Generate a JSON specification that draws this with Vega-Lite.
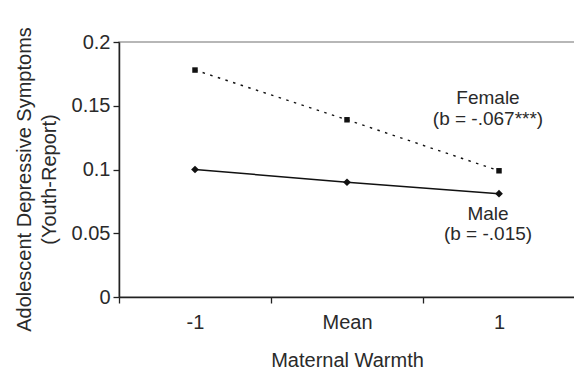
{
  "$schema": "https://vega.github.io/schema/vega-lite/v6.json",
  "width": 456,
  "height": 255,
  "autosize": "none",
  "padding": {"left": 119, "top": 42, "right": 0, "bottom": 73},
  "background": "white",
  "config": {
    "view": {"stroke": "#a0a0a0", "strokeWidth": 1.5},
    "font": "Liberation Sans",
    "text": {"font": "Liberation Sans"}
  },
  "datasets": {
    "points": [
      {"warmth": "-1", "gender": "Female", "symptoms": 0.178},
      {"warmth": "Mean", "gender": "Female", "symptoms": 0.139},
      {"warmth": "1", "gender": "Female", "symptoms": 0.099},
      {"warmth": "-1", "gender": "Male", "symptoms": 0.1},
      {"warmth": "Mean", "gender": "Male", "symptoms": 0.09},
      {"warmth": "1", "gender": "Male", "symptoms": 0.081}
    ],
    "labels": [
      {"warmth": "1", "symptoms": 0.1564, "label": "Female"},
      {"warmth": "1", "symptoms": 0.1399, "label": "(b = -.067***)"},
      {"warmth": "1", "symptoms": 0.0649, "label": "Male"},
      {"warmth": "1", "symptoms": 0.0495, "label": "(b = -.015)"}
    ]
  },
  "encoding": {
    "x": {
      "field": "warmth",
      "type": "nominal",
      "sort": ["-1", "Mean", "1"],
      "scale": {"type": "band", "domain": ["-1", "Mean", "1"], "paddingInner": 0, "paddingOuter": 0},
      "axis": {
        "title": "Maternal Warmth",
        "labelAngle": 0,
        "tickBand": "extent",
        "tickSize": 6,
        "tickColor": "#222",
        "tickWidth": 1.3,
        "domainColor": "#222",
        "domainWidth": 1.5,
        "labelFontSize": 20,
        "labelColor": "#2a2a2a",
        "labelPadding": 9,
        "titleFontSize": 20,
        "titleFontWeight": "normal",
        "titleColor": "#2a2a2a",
        "titlePadding": 18,
        "grid": false
      }
    },
    "y": {
      "field": "symptoms",
      "type": "quantitative",
      "scale": {"domain": [0, 0.2], "nice": false},
      "axis": {
        "values": [0, 0.05, 0.1, 0.15, 0.2],
        "format": "~g",
        "title": ["Adolescent Depressive Symptoms", "(Youth-Report)"],
        "grid": false,
        "tickSize": 6,
        "tickColor": "#222",
        "tickWidth": 1.3,
        "domainColor": "#222",
        "domainWidth": 1.5,
        "labelFontSize": 20,
        "labelColor": "#2a2a2a",
        "labelPadding": 3,
        "titleFontSize": 20,
        "titleFontWeight": "normal",
        "titleColor": "#2a2a2a",
        "titlePadding": 12,
        "titleLineHeight": 25,
        "titleY": 137
      }
    }
  },
  "layer": [
    {
      "data": {"name": "points"},
      "transform": [{"filter": "datum.gender === 'Female'"}],
      "mark": {"type": "line", "color": "#111", "strokeWidth": 1.4, "strokeDash": [2.5, 5.5]}
    },
    {
      "data": {"name": "points"},
      "transform": [{"filter": "datum.gender === 'Male'"}],
      "mark": {"type": "line", "color": "#111", "strokeWidth": 1.5}
    },
    {
      "data": {"name": "points"},
      "transform": [{"filter": "datum.gender === 'Female'"}],
      "mark": {"type": "point", "shape": "square", "filled": true, "color": "#111", "size": 30, "opacity": 1}
    },
    {
      "data": {"name": "points"},
      "transform": [{"filter": "datum.gender === 'Male'"}],
      "mark": {"type": "point", "shape": "diamond", "filled": true, "color": "#111", "size": 60, "opacity": 1}
    },
    {
      "data": {"name": "labels"},
      "mark": {"type": "text", "fontSize": 19, "color": "#2a2a2a", "dx": -11, "align": "center", "baseline": "middle"},
      "encoding": {"text": {"field": "label", "type": "nominal"}}
    }
  ]
}
